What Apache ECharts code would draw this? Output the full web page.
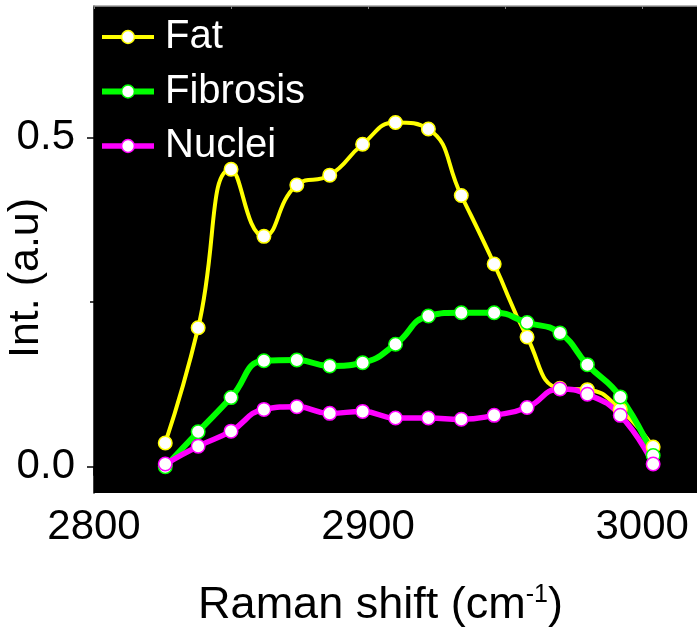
<!DOCTYPE html>
<html>
<head>
<meta charset="utf-8">
<script src="https://cdn.jsdelivr.net/npm/echarts@6/dist/echarts.min.js"></script>
<style>html,body{margin:0;padding:0;background:#fff;}#c{width:697px;height:627px;}</style>
</head>
<body>
<div id="c"></div>
<script>
var ramanShift = [2826, 2838, 2850, 2862, 2874, 2886, 2898, 2910, 2922, 2934, 2946, 2958, 2970, 2980, 2992, 3004];
var fat       = [0.036, 0.211, 0.452, 0.350, 0.428, 0.443, 0.490, 0.523, 0.513, 0.412, 0.308, 0.197, 0.119, 0.117, 0.087, 0.030];
var fibrosis  = [0.000, 0.053, 0.105, 0.161, 0.162, 0.153, 0.158, 0.186, 0.229, 0.234, 0.234, 0.219, 0.203, 0.155, 0.106, 0.017];
var nuclei    = [0.004, 0.031, 0.054, 0.087, 0.091, 0.081, 0.084, 0.074, 0.074, 0.072, 0.078, 0.090, 0.118, 0.110, 0.078, 0.004];
var seriesNames = ['Fat', 'Fibrosis', 'Nuclei'];
var seriesColors = ['#ffff00', '#00ff00', '#ff00ff'];
var seriesWidths = [4, 6, 5.5];
var xMajorTicks = [2800, 2900, 3000];
var xMinorTicks = [2850, 2950];
var yMajorTicks = [0, 0.5];
var yMinorTicks = [0.25];

var FONT = '"Liberation Sans", Arial, sans-serif';
function pairs(ys) { return ramanShift.map(function (x, i) { return [x, ys[i]]; }); }
function mkSeries(i, ys) {
  var color = seriesColors[i];
  return {
    name: seriesNames[i], type: 'line', xAxisIndex: 0, yAxisIndex: 0,
    data: pairs(ys), smooth: 0.5,
    symbol: 'circle', symbolSize: 13.5,
    lineStyle: { color: color, width: seriesWidths[i] },
    itemStyle: { color: '#ffffff', borderColor: color, borderWidth: 1.5 },
    emphasis: { disabled: true }
  };
}
var chart = echarts.init(document.getElementById('c'), null, { renderer: 'canvas' });
chart.setOption({
  animation: false,
  backgroundColor: '#ffffff',
  grid: { left: 94, right: 0, top: 6, bottom: 134, show: true, backgroundColor: '#000000', borderWidth: 0,
    containLabel: false, outerBoundsMode: 'none' },
  legend: {
    data: seriesNames.map(function (n, i) {
      return { name: n, lineStyle: { color: seriesColors[i], width: seriesWidths[i] },
        itemStyle: { color: '#ffffff', borderColor: seriesColors[i], borderWidth: 1.5 } };
    }),
    orient: 'vertical', left: 99, top: 17, padding: 0,
    itemWidth: 52, itemHeight: 16, itemGap: 14.5,
    textStyle: { color: '#ffffff', fontSize: 40, fontFamily: FONT, lineHeight: 40, padding: [0, 0, 0, 6] }
  },
  xAxis: [
    {
      type: 'value', position: 'bottom', min: 2800, max: 3020,
      name: 'Raman shift (cm{sup|-1})', nameLocation: 'middle', nameGap: 90, nameMoveOverlap: false,
      nameTextStyle: {
        color: '#000', fontSize: 45, lineHeight: 45, fontFamily: FONT, padding: [0, 30, 0, 0],
        rich: { sup: { fontSize: 25, lineHeight: 40, fontFamily: FONT, color: '#000', verticalAlign: 'top' } }
      },
      axisLine: { show: true, lineStyle: { color: '#000', width: 1.5 } },
      axisTick: { show: true, inside: false, length: 9, customValues: xMajorTicks, lineStyle: { color: '#000', width: 1.5 } },
      axisLabel: { show: true, customValues: xMajorTicks, margin: 13, color: '#000', fontSize: 42, fontFamily: FONT,
        formatter: function (v) { return String(v); } },
      splitLine: { show: false }
    },
    {
      type: 'value', position: 'bottom', min: 2800, max: 3020,
      axisLine: { show: false },
      axisTick: { show: true, inside: false, length: 4, customValues: xMinorTicks, lineStyle: { color: '#000', width: 1.5 } },
      axisLabel: { show: false },
      splitLine: { show: false }
    },
    {
      type: 'value', position: 'top', min: 2800, max: 3020,
      axisLine: { show: true, lineStyle: { color: '#a0a0a0', width: 1.5 } },
      axisTick: { show: true, inside: true, length: 3, customValues: [2800, 2850, 2900, 2950, 3000], lineStyle: { color: '#808080', width: 1 } },
      axisLabel: { show: false },
      splitLine: { show: false }
    }
  ],
  yAxis: [
    {
      type: 'value', position: 'left', min: -0.04, max: 0.7,
      name: 'Int. (a.u)', nameLocation: 'middle', nameGap: 46, nameRotate: 90, nameMoveOverlap: false,
      nameTextStyle: { color: '#000', fontSize: 43, fontFamily: FONT, padding: [0, 57, 0, 0] },
      axisLine: { show: true, lineStyle: { color: '#000', width: 1.5 } },
      axisTick: { show: true, inside: false, length: 7, customValues: yMajorTicks, lineStyle: { color: '#000', width: 1.5 } },
      axisLabel: { show: true, customValues: yMajorTicks, margin: 19, color: '#000', fontSize: 42, fontFamily: FONT,
        formatter: function (v) { return v.toFixed(1); } },
      splitLine: { show: false }
    },
    {
      type: 'value', position: 'left', min: -0.04, max: 0.7,
      axisLine: { show: false },
      axisTick: { show: true, inside: false, length: 4, customValues: yMinorTicks, lineStyle: { color: '#000', width: 1.5 } },
      axisLabel: { show: false },
      splitLine: { show: false }
    }
  ],
  series: [
    mkSeries(0, fat),
    mkSeries(1, fibrosis),
    mkSeries(2, nuclei)
  ]
});
</script>
</body>
</html>
